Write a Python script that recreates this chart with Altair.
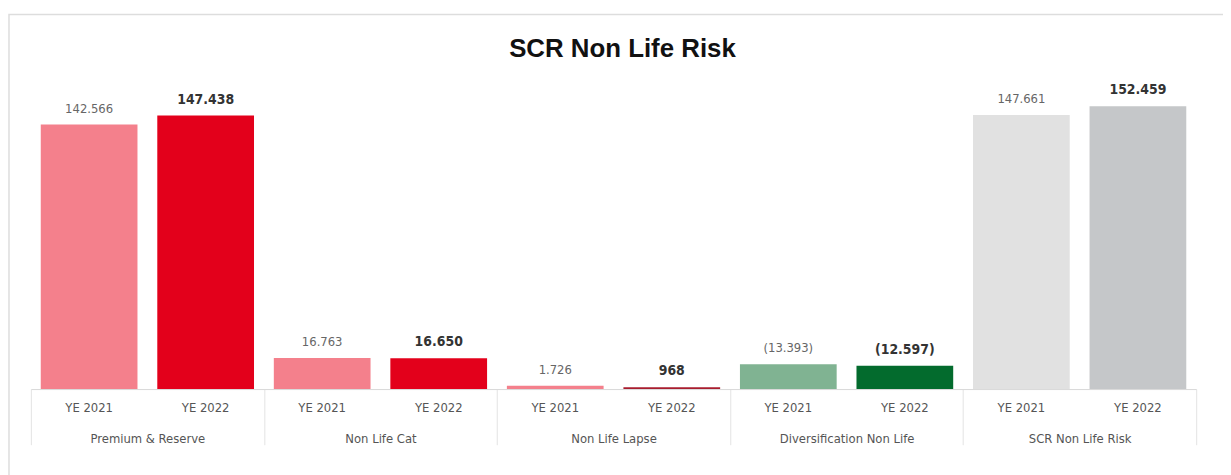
import altair as alt
import pandas as pd

# ---- data ----
groups = ["Premium & Reserve", "Non Life Cat", "Non Life Lapse",
          "Diversification Non Life", "SCR Non Life Risk"]
years = ["YE 2021", "YE 2022"]
values_2021 = [142566, 16763, 1726, -13393, 147661]
values_2022 = [147438, 16650, 968, -12597, 152459]

# ---- styling ----
colors_2021 = ["#F4808C", "#F4808C", "#F4808C", "#80B392", "#E1E1E1"]
colors_2022 = ["#E3001B", "#E3001B", "#A81C2E", "#036B2D", "#C5C7C9"]
FONT = "DejaVu Sans Condensed, DejaVu Sans, sans-serif"
TITLE_FONT = "Liberation Sans, Arial, sans-serif"

rows = []
for g, v1, v2, c1, c2 in zip(groups, values_2021, values_2022, colors_2021, colors_2022):
    rows.append({"group": g, "year": years[0], "value": v1, "key": g + "|" + years[0], "color": c1})
    rows.append({"group": g, "year": years[1], "value": v2, "key": g + "|" + years[1], "color": c2})
df = pd.DataFrame(rows)

W, H = 1173, 310

base = alt.Chart(df).transform_calculate(
    height="abs(datum.value)",
    label="(datum.value < 0 ? '(' : '') + replace(format(abs(datum.value), ','), ',', '.') + (datum.value < 0 ? ')' : '')"
)

x_enc = alt.X(
    "group:N", sort=groups, title=None,
    scale=alt.Scale(paddingInner=0, paddingOuter=0),
    axis=alt.Axis(
        labelAngle=0, labelFont=FONT, labelFontSize=13, labelColor="#555555",
        domainColor="#D9D9D9", tickColor="#E3E3E3", tickBand="extent",
        tickSize=56, labelPadding=-6, labelBaseline="middle",
    ),
)
xo_enc = alt.XOffset("year:N", sort=years,
                     scale=alt.Scale(paddingInner=0.17, paddingOuter=0.085))
y_enc = alt.Y("height:Q", title=None,
              scale=alt.Scale(domain=[0, 166000], nice=False),
              axis=None)

bars = base.mark_bar().encode(
    x=x_enc, xOffset=xo_enc, y=y_enc,
    color=alt.Color("key:N", scale=alt.Scale(domain=list(df["key"]), range=list(df["color"])), legend=None),
)

lab21 = base.transform_filter(alt.datum.year == years[0]).mark_text(
    baseline="bottom", dy=-9, font=FONT, fontSize=13, color="#666666"
).encode(x=alt.X("group:N", sort=groups), xOffset=xo_enc, y=y_enc, text="label:N")

lab22 = base.transform_filter(alt.datum.year == years[1]).mark_text(
    baseline="bottom", dy=-9, font=FONT, fontSize=14, fontWeight="bold", color="#333333"
).encode(x=alt.X("group:N", sort=groups), xOffset=xo_enc, y=y_enc, text="label:N")

year_labels = base.mark_text(
    baseline="middle", font=FONT, fontSize=13, color="#555555"
).encode(x=alt.X("group:N", sort=groups), xOffset=xo_enc,
         y=alt.value(H + 19), text="year:N")

frame = alt.Chart(pd.DataFrame({"f": [0]})).mark_rect(
    fill="transparent", stroke="#DDDDDD", strokeWidth=1.5
).encode(x=alt.value(-22), x2=alt.value(W + 40), y=alt.value(-67), y2=alt.value(H + 110))

chart = alt.layer(frame, bars, lab21, lab22, year_labels).properties(
    width=W, height=H,
    title=alt.TitleParams("SCR Non Life Risk", font=TITLE_FONT, fontSize=26,
                          fontWeight="bold", color="#111111", offset=-49, dx=9),
    autosize=alt.AutoSizeParams(type="none"),
    padding={"left": 23, "top": 72, "right": 27, "bottom": 95},
).configure_view(stroke=None)

chart.save("out.html", embed_options={"renderer": "svg", "actions": False})
